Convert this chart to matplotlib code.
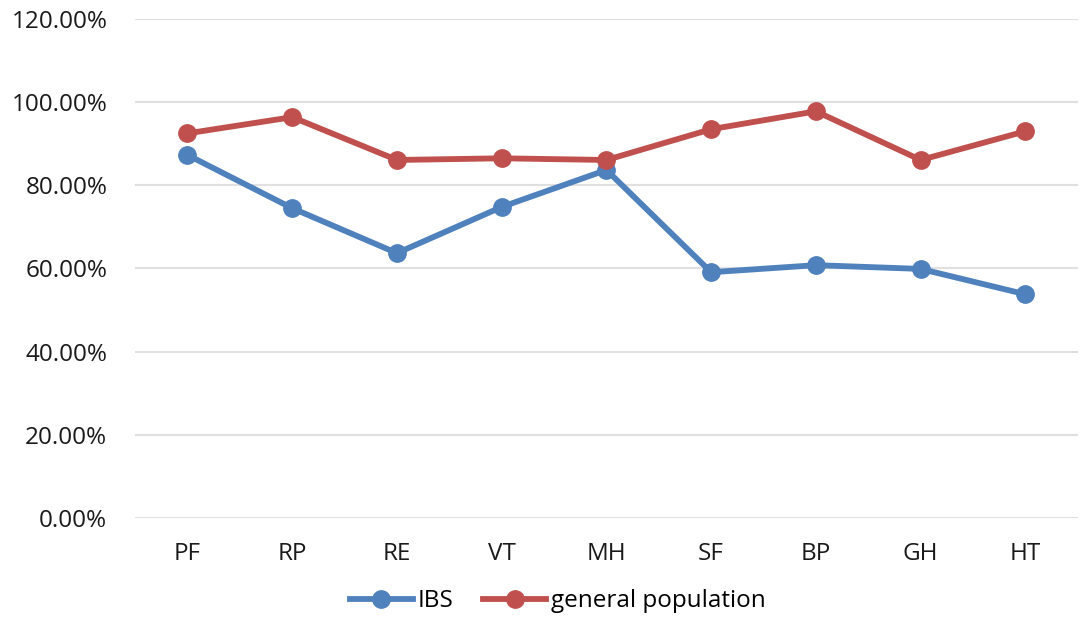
import matplotlib.pyplot as plt
from matplotlib.ticker import FuncFormatter

categories = ['PF', 'RP', 'RE', 'VT', 'MH', 'SF', 'BP', 'GH', 'HT']
ibs = [87.3, 74.5, 63.7, 74.8, 83.7, 59.1, 60.8, 59.9, 53.8]
general = [92.5, 96.4, 86.1, 86.5, 86.1, 93.5, 97.8, 86.1, 93.0]

plt.rcParams['font.family'] = ['Open Sans', 'DejaVu Sans']

fig = plt.figure(figsize=(10.81, 6.34), dpi=100)
ax = fig.add_axes([0.125, 0.183, 0.872, 0.787])

x = range(len(categories))
ax.plot(x, ibs, color='#4F81BD', lw=4.2, marker='o', ms=12.5, label='IBS')
ax.plot(x, general, color='#C0504D', lw=4.2, marker='o', ms=12.5, label='general population')

ax.set_xlim(-0.5, len(categories) - 0.5)
ax.set_ylim(0, 120)
ax.set_yticks(range(0, 121, 20))
ax.yaxis.set_major_formatter(FuncFormatter(lambda v, p: '%.2f%%' % v))
ax.set_xticks(list(x))
ax.set_xticklabels(categories)
ax.grid(axis='y', color='#E0E0E0', lw=1.5)
ax.set_axisbelow(True)
for s in ax.spines.values():
    s.set_visible(False)
ax.tick_params(length=0, labelsize=17.5, colors='#1a1a1a')
ax.tick_params(axis='y', pad=20)
ax.tick_params(axis='x', pad=17)

fig.legend(loc='center', bbox_to_anchor=(0.516, 0.052), ncol=2, frameon=False,
           fontsize=17.5, handlelength=2.6, handletextpad=0.2, columnspacing=1.2)

fig.savefig('out.png')
